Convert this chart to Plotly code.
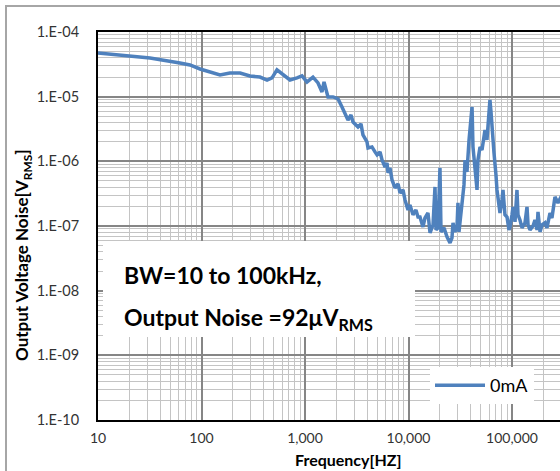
import plotly.graph_objects as go

# frequency [Hz] and output noise [V rms]
freq = [10, 16.3, 31.8, 61.9, 77.4, 96.8, 121, 151, 188, 236, 294, 367, 430, 480, 536, 613,
        716, 837, 935, 1045, 1194, 1336, 1459, 1527, 1667, 1866, 2085, 2277, 2434, 2602,
        2780, 2911, 3252, 3475, 3631, 3972, 4063, 4437, 4745, 4965, 5309, 5550, 5934, 6200,
        6345, 6624, 6934, 7413, 7925, 8281, 8851, 9250, 9890, 10330, 11050, 11800, 12360,
        12910, 13800, 14430, 15420, 16140, 17260, 18030, 18450, 19280, 20140, 20610, 22030,
        23550, 25180, 26300, 26920, 28120, 29440, 30060, 30750, 32140, 33650, 34360, 35160,
        36730, 38460, 39260, 41110, 41980, 43950, 45920, 46880, 49090, 51290, 53580, 54830,
        57280, 58620, 61230, 62670, 64130, 66990, 70000, 71600, 74800, 76560, 80000, 81840,
        85500, 89500, 93500, 95700, 100000, 102300, 106900, 111700, 114300, 119400, 125000,
        133600, 139600, 142900, 149300, 159600, 166700, 174600, 178300, 186600, 195000,
        208400, 217800, 232800, 243200, 260000, 278000, 304000]
noise = [4.73e-5, 4.41e-5, 3.96e-5, 3.32e-5, 3.09e-5, 2.68e-5, 2.41e-5, 2.16e-5, 2.32e-5,
         2.32e-5, 2.09e-5, 2.01e-5, 1.81e-5, 1.95e-5, 2.59e-5, 2.16e-5, 1.81e-5, 1.95e-5,
         2.09e-5, 1.69e-5, 2.01e-5, 1.63e-5, 1.18e-5, 1.69e-5, 9.89e-6, 9.89e-6, 9.21e-6,
         6.93e-6, 5.60e-6, 4.36e-6, 5.21e-6, 4.06e-6, 3.40e-6, 3.79e-6, 2.56e-6, 2.00e-6,
         1.61e-6, 1.67e-6, 1.40e-6, 1.26e-6, 1.40e-6, 1.05e-6, 8.19e-7, 9.44e-7, 6.62e-7,
         7.91e-7, 5.16e-7, 3.88e-7, 4.48e-7, 3.25e-7, 3.61e-7, 2.53e-7, 1.77e-7, 2.12e-7,
         1.49e-7, 1.77e-7, 1.38e-7, 1.38e-7, 9.68e-8, 1.33e-7, 1.59e-7, 7.82e-8, 1.04e-7,
         4.02e-7, 8.71e-8, 9.35e-8, 7.91e-7, 8.11e-8, 9.35e-8, 6.79e-8, 5.48e-8, 6.55e-8,
         1.12e-7, 8.11e-8, 1.00e-7, 2.28e-7, 8.11e-8, 1.49e-7, 2.53e-7, 4.32e-7, 1.05e-6,
         6.86e-7, 2.14e-6, 3.40e-6, 6.93e-6, 1.67e-6, 7.36e-7, 3.61e-7, 1.05e-6, 1.67e-6,
         1.50e-6, 2.30e-6, 3.05e-6, 2.14e-6, 3.92e-6, 8.89e-6, 5.81e-6, 3.05e-6, 1.35e-6,
         6.17e-7, 3.61e-7, 2.12e-7, 1.59e-7, 2.53e-7, 3.61e-7, 1.49e-7, 1.38e-7, 8.71e-8,
         9.68e-8, 1.49e-7, 1.97e-7, 1.16e-7, 3.61e-7, 1.49e-7, 1.24e-7, 9.35e-8, 1.12e-7,
         1.97e-7, 1.04e-7, 8.71e-8, 1.00e-7, 1.24e-7, 8.71e-8, 1.65e-7, 8.11e-8, 1.04e-7,
         1.12e-7, 9.35e-8, 1.59e-7, 1.33e-7, 2.82e-7, 2.28e-7, 3.03e-7]

x_ticks = [10, 100, 1000, 10000, 100000, 1000000]
x_labels = ["10", "100", "1,000", "10,000", "100,000", "1,000,000"]
y_ticks = [1e-10, 1e-9, 1e-8, 1e-7, 1e-6, 1e-5, 1e-4]
y_labels = ["1.E-10", "1.E-09", "1.E-08", "1.E-07", "1.E-06", "1.E-05", "1.E-04"]

x_minor = [d * m for d in x_ticks for m in range(2, 10)]
y_minor = [d * m for d in y_ticks for m in range(2, 10)]

FONT = "Lato"
W, H = 560, 471
L, T, B = 98, 32, 51
pw, ph = W - L, H - T - B


def px(x):  # pixel -> paper x
    return (x - L) / pw


def py(y):  # pixel -> paper y
    return 1 - (y - T) / ph


fig = go.Figure()
fig.add_trace(go.Scatter(x=freq, y=noise, mode="lines", name="0mA",
                         line=dict(color="#4F81BD", width=3.5)))

fig.update_xaxes(type="log", range=[1, 1 + pw / 103.5], automargin=False,
                 tickvals=x_ticks, ticktext=x_labels,
                 showgrid=True, gridcolor="#868686", gridwidth=1.8,
                 minor=dict(tickvals=x_minor, showgrid=True, gridcolor="#C4C4C4", gridwidth=1.4),
                 showline=True, linecolor="black", linewidth=2, mirror=True,
                 ticks="", ticklabelstandoff=4,
                 tickfont=dict(family=FONT, size=14, color="#333"))
fig.update_yaxes(type="log", range=[-10, -4], automargin=False,
                 tickvals=y_ticks, ticktext=y_labels,
                 showgrid=True, gridcolor="#868686", gridwidth=1.8,
                 minor=dict(tickvals=y_minor, showgrid=True, gridcolor="#C4C4C4", gridwidth=1.4),
                 showline=True, linecolor="black", linewidth=2,
                 ticks="", ticklabelstandoff=14,
                 tickfont=dict(family=FONT, size=14.5, color="#333"))

# outer chart frame
fig.add_shape(type="rect", xref="paper", yref="paper",
              x0=px(6), x1=px(W + 20), y0=py(6), y1=py(H + 20),
              line=dict(color="#A6A6A6", width=2), layer="above")
# white text box
fig.add_shape(type="rect", xref="paper", yref="paper",
              x0=px(103), x1=px(415), y0=py(241), y1=py(337),
              fillcolor="white", line=dict(width=0), layer="above")

fig.add_annotation(xref="paper", yref="paper", x=px(122), y=py(275),
                   xanchor="left", yanchor="middle",
                   text="<b>BW=10 to 100kHz,</b>", showarrow=False,
                   font=dict(family=FONT, size=23, color="black"))
fig.add_annotation(xref="paper", yref="paper", x=px(122), y=py(318),
                   xanchor="left", yanchor="middle",
                   text="<b>Output Noise =92μV<sub>RMS</sub></b>", showarrow=False,
                   font=dict(family=FONT, size=23, color="black"))
fig.add_annotation(xref="paper", yref="paper", x=px(348), y=py(459),
                   xanchor="center", yanchor="middle",
                   text="<b>Frequency[HZ]</b>", showarrow=False,
                   font=dict(family=FONT, size=16, color="black"))
fig.add_annotation(xref="paper", yref="paper", x=px(23), y=py(255), textangle=-90,
                   xanchor="center", yanchor="middle",
                   text="<b>Output Voltage Noise[V<sub>RMS</sub>]</b>", showarrow=False,
                   font=dict(family=FONT, size=17, color="black"))

fig.update_layout(
    width=W, height=H,
    margin=dict(l=L, r=0, t=T, b=B),
    paper_bgcolor="white", plot_bgcolor="white",
    showlegend=True,
    legend=dict(x=px(430), y=py(367), xanchor="left", yanchor="top",
                bgcolor="white", font=dict(family=FONT, size=18, color="black"),
                itemwidth=50),
)

fig.write_html("out.html", config={"displayModeBar": False},
               post_script="document.body.style.margin='0';")
